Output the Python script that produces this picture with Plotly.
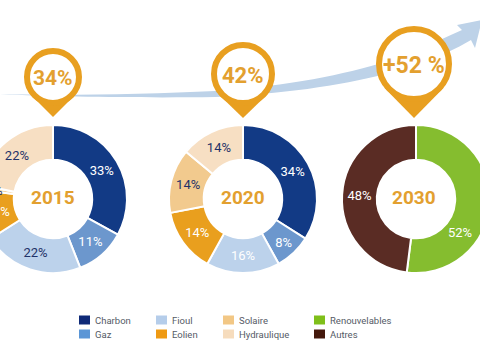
import plotly.graph_objects as go

categories = ["Charbon", "Gaz", "Fioul", "Eolien", "Solaire", "Hydraulique"]
colors = ["#123a85", "#6c97cd", "#bcd2eb", "#e99f1e", "#f2ca8e", "#f7dfc3"]
text_colors_2015 = ["#ffffff", "#ffffff", "#1f3268", "#ffffff", "#1f3268", "#1f3268"]
text_colors_2020 = ["#ffffff", "#ffffff", "#ffffff", "#ffffff", "#1f3268", "#1f3268"]
values_2015 = [33, 11, 22, 11, 1, 22]
values_2020 = [34, 8, 16, 14, 14, 14]
categories_2030 = ["Renouvelables", "Autres"]
values_2030 = [52, 48]
colors_2030 = ["#85bd2f", "#5a2c24"]
years = ["2015", "2020", "2030"]
pin_labels = ["34%", "42%", "+52 %"]
legend_labels = ["Charbon", "Gaz", "Fioul", "Eolien", "Solaire", "Hydraulique", "Renouvelables", "Autres"]
legend_colors = ["#0f2a78", "#5b96d6", "#b5cdea", "#ef9a13", "#f2c785", "#f6dcbd", "#7fbf1a", "#44190c"]

OFFSET = 21
W, H = 512, 360
ORANGE = "#e89f20"
TXT = "#e3a02f"


def dom(cx, cy, r):
    return dict(x=[(cx - r + OFFSET) / W, (cx + r + OFFSET) / W],
                y=[1 - (cy + r) / H, 1 - (cy - r) / H])


fig = go.Figure()
pies = [(categories, values_2015, colors, text_colors_2015, 53),
        (categories, values_2020, colors, text_colors_2020, 243),
        (categories_2030, values_2030, colors_2030, ["#ffffff", "#ffffff"], 416)]
for labs, vals, cols, tcols, cx in pies:
    fig.add_trace(go.Pie(
        labels=labs, values=vals, sort=False, direction="clockwise", rotation=0,
        hole=0.53, domain=dom(cx, 199, 74),
        marker=dict(colors=cols, line=dict(color="#ffffff", width=2)),
        text=[(f"{v}%" if (v > 1 and v != 52) else "") for v in vals], textinfo="text",
        textposition="inside", insidetextorientation="horizontal",
        textfont=dict(family="Roboto", size=13, color=tcols),
        showlegend=False,
    ))

shapes = []
# rising arrow
shapes.append(dict(type="path", xref="x", yref="y", fillcolor="#bdd2e8", line=dict(width=0), layer="below",
    path=("M 0,94 C 60,96 150,94 215,91 C 290,86 345,74 385,62 C 410,54 435,42 462,30 "
          "L 457,25 L 482,20 L 475,48 L 471,40 C 440,58 410,68 385,74 "
          "C 340,86 280,94 215,97 C 150,98 60,97 0,94 Z")))
# location pins
pins = [(53, 77, 29, 117, 22), (243, 74, 32, 118, 25), (414, 64, 38, 118, 30)]
for cx, cy, r, tip, hw in pins:
    shapes.append(dict(type="path", xref="x", yref="y", fillcolor=ORANGE, line=dict(width=0),
                       path=f"M {cx-hw},{cy+r*0.62} L {cx},{tip} L {cx+hw},{cy+r*0.62} Z"))
    shapes.append(dict(type="circle", xref="x", yref="y", fillcolor="#ffffff",
                       line=dict(color=ORANGE, width=6),
                       x0=cx - r + 3, x1=cx + r - 3, y0=cy - r + 3, y1=cy + r - 3))

anns = []
for (cx, cy, r, tip, hw), lab, sz in zip(pins, pin_labels, [21, 22, 23]):
    anns.append(dict(x=cx, y=cy + 1, text=f"<b>{lab}</b>", showarrow=False, xref="x", yref="y",
                     font=dict(family="Roboto", size=sz, color=TXT)))
for cx, yr in zip([53, 243, 414], years):
    anns.append(dict(x=cx, y=197, text=f"<b>{yr}</b>", showarrow=False, xref="x", yref="y",
                     font=dict(family="Roboto", size=19, color=TXT)))
anns.append(dict(x=-5, y=191, text="1%", showarrow=False, xref="x", yref="y",
                 font=dict(family="Roboto", size=12, color="#1f3268")))
anns.append(dict(x=460, y=232, text="52%", showarrow=False, xref="x", yref="y",
                 font=dict(family="Roboto", size=13, color="#ffffff")))

# legend
xs = [79, 79, 156, 156, 223, 223, 314, 314]
ys = [320, 334, 320, 334, 320, 334, 320, 334]
for x, y, lab, col in zip(xs, ys, legend_labels, legend_colors):
    shapes.append(dict(type="rect", xref="x", yref="y", fillcolor=col, line=dict(width=0),
                       x0=x, x1=x + 11, y0=y - 4.5, y1=y + 4.5))
    anns.append(dict(x=x + 13.5, y=y, text=lab, showarrow=False, xref="x", yref="y", xanchor="left",
                     font=dict(family="Roboto", size=9.5, color="#555b66")))

fig.update_layout(
    width=W, height=H, margin=dict(l=0, r=0, t=0, b=0),
    paper_bgcolor="#ffffff", plot_bgcolor="#ffffff", showlegend=False,
    xaxis=dict(range=[-OFFSET, W - OFFSET], visible=False, fixedrange=True),
    yaxis=dict(range=[H, 0], visible=False, fixedrange=True),
    shapes=shapes, annotations=anns,
)
post = ("document.body.style.margin='0';document.body.style.overflow='hidden';"
        "document.documentElement.style.overflow='hidden';"
        "var g=document.querySelector('.plotly-graph-div');"
        f"g.style.position='absolute';g.style.left='-{OFFSET}px';g.style.top='0';")
fig.write_html("out.html", post_script=post, config={"displayModeBar": False})
